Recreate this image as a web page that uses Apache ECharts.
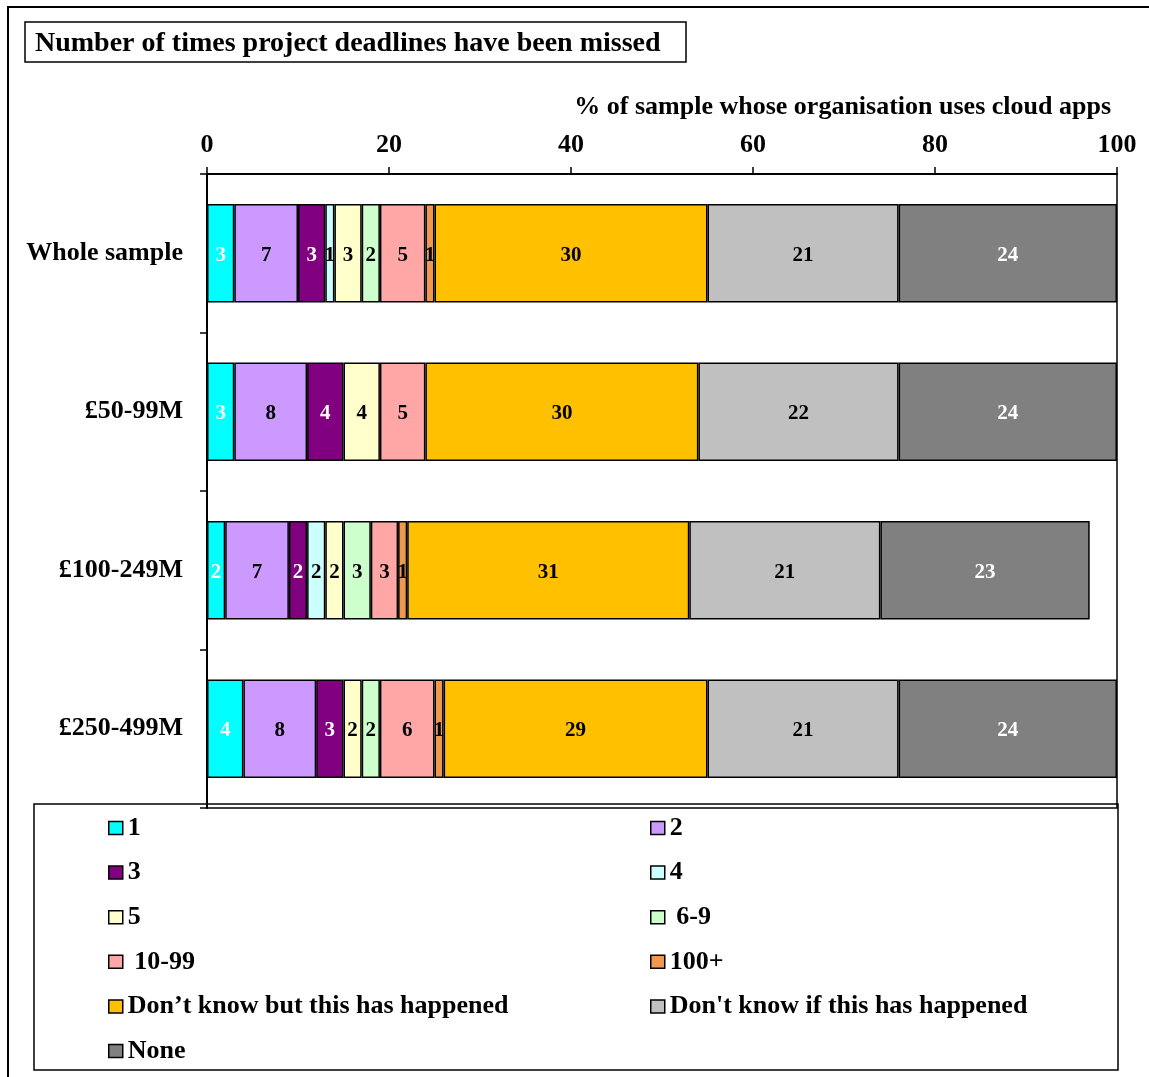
<!DOCTYPE html>
<html>
<head>
<meta charset="utf-8">
<title>Number of times project deadlines have been missed</title>
<script src="https://cdn.jsdelivr.net/npm/echarts@6/dist/echarts.min.js"></script>
<style>
  html, body { margin: 0; padding: 0; background: #fff; }
  #chart { width: 1149px; height: 1077px; }
</style>
</head>
<body>
<div id="chart"></div>
<script>
// Survey groups (rows, top to bottom)
const categories = ['Whole sample', '£50-99M', '£100-249M', '£250-499M'];

// Response options, in stacking order
const seriesNames = ['1', '2', '3', '4', '5', ' 6-9', ' 10-99', '100+',
  'Don’t know but this has happened', "Don't know if this has happened", 'None'];

// Percentages per group for each response option (null = not reported)
const v1      = [3, 3, 2, 4];
const v2      = [7, 8, 7, 8];
const v3      = [3, 4, 2, 3];
const v4      = [1, null, 2, null];
const v5      = [3, 4, 2, 2];
const v6to9   = [2, null, 3, 2];
const v10to99 = [5, 5, 3, 6];
const v100p   = [1, null, 1, 1];
const vDkYes  = [30, 30, 31, 29];
const vDkIf   = [21, 22, 21, 21];
const vNone   = [24, 24, 23, 24];

const seriesValues = [v1, v2, v3, v4, v5, v6to9, v10to99, v100p, vDkYes, vDkIf, vNone];

const seriesColors = ['#00FFFF', '#CC99FF', '#800080', '#CCFFFF', '#FFFFCC', '#CCFFCC',
  '#FFA6A6', '#EF9850', '#FFC000', '#C0C0C0', '#808080'];
const labelColors = ['#fff', '#000', '#fff', '#000', '#000', '#000',
  '#000', '#000', '#000', '#000', '#fff'];

// X axis tick values
const xTicks = [0, 20, 40, 60, 80, 100];

const FONT = "'Liberation Serif', 'Times New Roman', serif";

const series = seriesNames.map((name, i) => ({
  name: name,
  type: 'bar',
  stack: 'total',
  barCategoryGap: '38%',
  data: seriesValues[i],
  itemStyle: { color: seriesColors[i], borderColor: '#000', borderWidth: 1.5 },
  label: {
    show: true,
    position: 'inside',
    offset: [0, 2],
    color: labelColors[i],
    fontFamily: FONT,
    fontWeight: 'bold',
    fontSize: 21,
    formatter: p => (p.value == null ? '' : String(p.value))
  },
  emphasis: { disabled: true }
}));

const legendCommon = {
  orient: 'vertical',
  padding: 0,
  itemGap: 14.6,
  itemWidth: 14,
  itemHeight: 13,
  icon: 'rect',
  selectedMode: false,
  itemStyle: { borderColor: '#000', borderWidth: 1.5 },
  textStyle: { fontFamily: FONT, fontWeight: 'bold', fontSize: 26, color: '#000', lineHeight: 30 }
};

const chart = echarts.init(document.getElementById('chart'), null, { renderer: 'canvas' });

chart.setOption({
  backgroundColor: '#fff',
  animation: false,
  title: [
    {
      text: 'Number of times project deadlines have been missed',
      left: 35, top: 28, padding: 0,
      textStyle: { fontFamily: FONT, fontWeight: 'bold', fontSize: 28, color: '#000', lineHeight: 32 }
    },
    {
      text: '% of sample whose organisation uses cloud apps',
      right: 38, top: 92, padding: 0,
      textStyle: { fontFamily: FONT, fontWeight: 'bold', fontSize: 26, color: '#000', lineHeight: 30 }
    }
  ],
  grid: {
    left: 207, right: 32, top: 174, bottom: 269,
    show: true, borderColor: '#000', borderWidth: 1.5, backgroundColor: 'transparent'
  },
  xAxis: {
    type: 'value',
    position: 'top',
    min: xTicks[0],
    max: xTicks[xTicks.length - 1],
    interval: xTicks[1] - xTicks[0],
    axisLine: { show: true, lineStyle: { color: '#000', width: 2 } },
    axisTick: { show: true, length: 7, lineStyle: { color: '#000', width: 1.5 } },
    splitLine: { show: false },
    axisLabel: { fontFamily: FONT, fontWeight: 'bold', fontSize: 26, color: '#000', margin: 16 }
  },
  yAxis: {
    type: 'category',
    inverse: true,
    data: categories,
    axisLine: { show: true, lineStyle: { color: '#000', width: 2 } },
    axisTick: { show: true, length: 7, lineStyle: { color: '#000', width: 1.5 } },
    axisLabel: {
      fontFamily: FONT, fontWeight: 'bold', fontSize: 26, color: '#000', margin: 24,
      padding: [5, 0, 0, 0]
    }
  },
  legend: [
    Object.assign({}, legendCommon, {
      left: 108, top: 813,
      data: [seriesNames[0], seriesNames[2], seriesNames[4], seriesNames[6], seriesNames[8], seriesNames[10]]
    }),
    Object.assign({}, legendCommon, {
      left: 650, top: 813,
      data: [seriesNames[1], seriesNames[3], seriesNames[5], seriesNames[7], seriesNames[9]]
    })
  ],
  graphic: [
    // outer frame
    { type: 'rect', silent: true, z: 100,
      shape: { x: 8, y: 7, width: 1170, height: 1100 },
      style: { fill: 'none', stroke: '#000', lineWidth: 2 } },
    // box round the title
    { type: 'rect', silent: true, z: 100,
      shape: { x: 25, y: 22, width: 661, height: 40 },
      style: { fill: 'none', stroke: '#000', lineWidth: 1.5 } },
    // box round the legend
    { type: 'rect', silent: true, z: 100,
      shape: { x: 34, y: 804, width: 1084, height: 266 },
      style: { fill: 'none', stroke: '#000', lineWidth: 1.5 } }
  ],
  series: series
});
</script>
</body>
</html>
